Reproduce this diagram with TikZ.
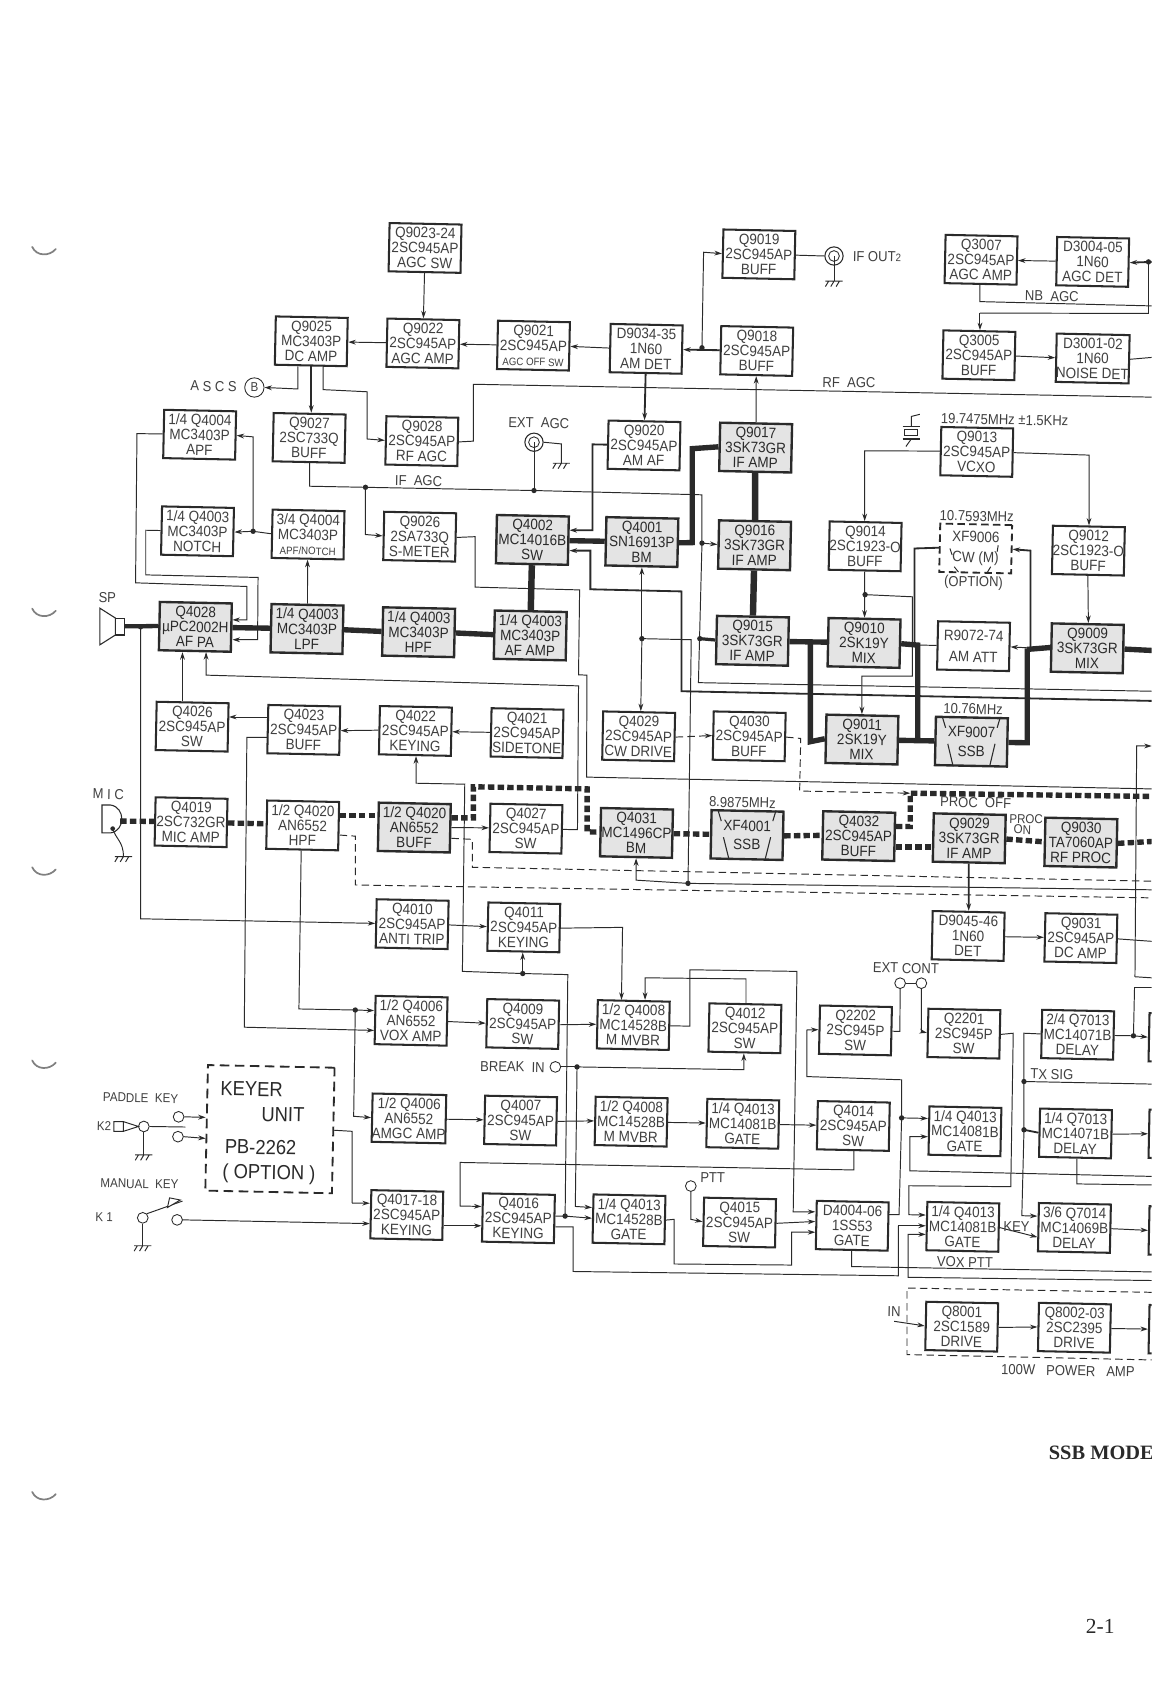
\documentclass[tikz,border=0pt]{standalone}
\usepackage{fontspec}
\setmainfont{Liberation Sans}[FakeStretch=0.9]
\newfontfamily\serifx{Liberation Serif}
\usetikzlibrary{arrows.meta}
\definecolor{ink}{HTML}{2A2A2A}
\definecolor{txt}{HTML}{404040}
\definecolor{gbox}{HTML}{E4E4E4}
\tikzset{
 base/.style={draw=ink,rotate=-1.2,minimum width=67pt,minimum height=45pt,inner sep=0pt,align=center,text=txt,font=\fontsize{14}{14}\selectfont},
 wbox/.style={base,line width=1.9pt,fill=white},
 gbx/.style={base,line width=2.2pt,fill=gbox,text=ink},
 dbox/.style={base,line width=1.7pt,fill=white,dash pattern=on 7pt off 4pt},
 sig/.style={draw=ink,line width=.9pt},
 arr/.style={-{Stealth[length=7pt,width=4.5pt]}},
 med/.style={draw=ink,line width=1.7pt},
 thk/.style={draw=ink,line width=5pt},
 tdash/.style={draw=ink,line width=5pt,dash pattern=on 6pt off 3pt},
 thdash/.style={draw=ink,line width=.9pt,dash pattern=on 7pt off 4pt},
 jdot/.style={circle,fill=ink,inner sep=0pt,minimum size=5pt},
 jack/.style={circle,draw=ink,line width=.8pt,fill=white,inner sep=0pt,minimum size=10pt,text=txt},
 lab/.style={rotate=-1.2,text=txt,inner sep=0pt,font=\fontsize{13.5}{14}\selectfont},
 bigl/.style={rotate=-1.2,text=ink,inner sep=0pt,font=\fontsize{19}{20}\selectfont},
 smlab/.style={rotate=-1.2,text=txt,inner sep=0pt,font=\fontsize{12}{13}\selectfont},
}
\newcommand{\bx}[5][wbox]{\node[#1] (#2) at ({#3+34},{#4+23}) {#5};}
\newcommand{\lb}[5][lab]{\node[#1] (#2) at (#3,#4) {#5};}
\newcommand{\jd}[3]{\node[jdot] (#1) at (#2,#3) {};}
\newcommand{\gnd}[2]{\draw[sig] ({#1-8},#2) -- ({#1+8},#2) ({#1-5},#2) -- ({#1-8},{#2+5}) ({#1},#2) -- ({#1-3},{#2+5}) ({#1+5},#2) -- ({#1+2},{#2+5});}
\newcommand{\filt}[4]{\draw[sig,line width=1pt] ({#1+7},#2) -- ({#1+10},{#2+10}) ({#1+12},{#2+25}) -- ({#1+17},#4) ({#3-7},#2) -- ({#3-10},{#2+10}) ({#3-12},{#2+25}) -- ({#3-17},#4);}
\newcommand{\tinylab}{\fontsize{10}{14}\selectfont}
\begin{document}
\begin{tikzpicture}[x=1pt,y=-1pt]
\clip (0,0) rectangle (1073,1568);
\fill[white] (0,0) rectangle (1073,1568);
% punch marks
\foreach \yy in {230,567,808,988,1390}{\draw[line width=1.6pt,gray,line cap=round] (30,\yy) .. controls (34,{\yy+9}) and (46,{\yy+9}) .. (52,{\yy+2});}
% boxes
\bx{q9023}{362}{208}{Q9023-24\\2SC945AP\\AGC SW}
\bx{q9019}{673}{214}{Q9019\\2SC945AP\\BUFF}
\bx{q3007}{880}{219}{Q3007\\2SC945AP\\AGC AMP}
\bx{d3004}{984}{221}{D3004-05\\1N60\\AGC DET}
\bx{q9025}{256}{295}{Q9025\\MC3403P\\DC AMP}
\bx{q9022}{360}{297}{Q9022\\2SC945AP\\AGC AMP}
\bx{q9021}{463}{299}{Q9021\\2SC945AP\\{\tinylab AGC OFF SW}}
\bx{d9034}{568}{302}{D9034-35\\1N60\\AM DET}
\bx{q9018}{671}{304}{Q9018\\2SC945AP\\BUFF}
\bx{q3005}{878}{308}{Q3005\\2SC945AP\\BUFF}
\bx{d3001}{984}{311}{D3001-02\\1N60\\NOISE DET}
\bx{a4004}{152}{382}{1/4 Q4004\\MC3403P\\APF}
\bx{q9027}{254}{385}{Q9027\\2SC733Q\\BUFF}
\bx{q9028}{359}{388}{Q9028\\2SC945AP\\RF AGC}
\bx{q9020}{566}{392}{Q9020\\2SC945AP\\AM AF}
\bx[gbx]{q9017}{670}{394}{Q9017\\3SK73GR\\IF AMP}
\bx{q9013}{876}{398}{Q9013\\2SC945AP\\VCXO}
\bx{n4003}{150}{472}{1/4 Q4003\\MC3403P\\NOTCH}
\bx{b4004}{253}{475}{3/4 Q4004\\MC3403P\\{\tinylab APF/NOTCH}}
\bx{q9026}{357}{477}{Q9026\\2SA733Q\\S-METER}
\bx[gbx]{q4002}{462}{480}{Q4002\\MC14016B\\SW}
\bx[gbx]{q4001}{564}{482}{Q4001\\SN16913P\\BM}
\bx[gbx]{q9016}{669}{485}{Q9016\\3SK73GR\\IF AMP}
\bx{q9014}{772}{486}{Q9014\\2SC1923-O\\BUFF}
\bx[dbox]{xf9006}{875}{488}{XF9006\\[5pt]CW (M)}
\bx{q9012}{980}{490}{Q9012\\2SC1923-O\\BUFF}
\bx[gbx]{q4028}{148}{561}{Q4028\\µPC2002H\\AF PA}
\bx[gbx]{lpf}{252}{563}{1/4 Q4003\\MC3403P\\LPF}
\bx[gbx]{hpf}{356}{566}{1/4 Q4003\\MC3403P\\HPF}
\bx[gbx]{afamp}{460}{569}{1/4 Q4003\\MC3403P\\AF AMP}
\bx[gbx]{q9015}{667}{574}{Q9015\\3SK73GR\\IF AMP}
\bx[gbx]{q9010}{771}{576}{Q9010\\2SK19Y\\MIX}
\bx{r9072}{873}{579}{R9072-74\\[6pt]AM ATT}
\bx[gbx]{q9009}{979}{581}{Q9009\\3SK73GR\\MIX}
\bx[gbx]{q9011}{769}{666}{Q9011\\2SK19Y\\MIX}
\bx[gbx]{xf9007}{871}{668}{XF9007\\[4pt]SSB}
\bx{q4026}{145}{654}{Q4026\\2SC945AP\\SW}
\bx{q4023}{249}{657}{Q4023\\2SC945AP\\BUFF}
\bx{q4022}{353}{658}{Q4022\\2SC945AP\\KEYING}
\bx{q4021}{457}{660}{Q4021\\2SC945AP\\SIDETONE}
\bx{q4029}{561}{663}{Q4029\\2SC945AP\\CW DRIVE}
\bx{q4030}{664}{663}{Q4030\\2SC945AP\\BUFF}
\bx{q4019}{144}{743}{Q4019\\2SC732GR\\MIC AMP}
\bx{hp4020}{248}{746}{1/2 Q4020\\AN6552\\HPF}
\bx[gbx]{bf4020}{352}{748}{1/2 Q4020\\AN6552\\BUFF}
\bx{q4027}{456}{749}{Q4027\\2SC945AP\\SW}
\bx[gbx]{q4031}{559}{753}{Q4031\\MC1496CP\\BM}
\bx[gbx]{xf4001}{662}{755}{XF4001\\[3pt]SSB}
\bx[gbx]{q4032}{766}{756}{Q4032\\2SC945AP\\BUFF}
\bx[gbx]{q9029}{869}{758}{Q9029\\3SK73GR\\IF AMP}
\bx[gbx]{q9030}{973}{762}{Q9030\\TA7060AP\\RF PROC}
\bx{q4010}{350}{838}{Q4010\\2SC945AP\\ANTI TRIP}
\bx{q4011}{454}{841}{Q4011\\2SC945AP\\KEYING}
\bx{d9045}{868}{849}{D9045-46\\1N60\\DET}
\bx{q9031}{973}{851}{Q9031\\2SC945AP\\DC AMP}
\bx{vox}{349}{928}{1/2 Q4006\\AN6552\\VOX AMP}
\bx{q4009}{453}{931}{Q4009\\2SC945AP\\SW}
\bx{m4008}{556}{932}{1/2 Q4008\\MC14528B\\M MVBR}
\bx{q4012}{660}{935}{Q4012\\2SC945AP\\SW}
\bx{q2202}{763}{937}{Q2202\\2SC945P\\SW}
\bx{q2201}{864}{940}{Q2201\\2SC945P\\SW}
\bx{s7013}{970}{941}{2/4 Q7013\\MC14071B\\DELAY}
\bx{amgc}{347}{1019}{1/2 Q4006\\AN6552\\AMGC AMP}
\bx{q4007}{451}{1021}{Q4007\\2SC945AP\\SW}
\bx{mm4008}{554}{1022}{1/2 Q4008\\MC14528B\\M MVBR}
\bx{ga}{658}{1024}{1/4 Q4013\\MC14081B\\GATE}
\bx{q4014}{761}{1026}{Q4014\\2SC945AP\\SW}
\bx{gb}{865}{1031}{1/4 Q4013\\MC14081B\\GATE}
\bx{d7013}{968}{1033}{1/4 Q7013\\MC14071B\\DELAY}
\bx{q4017}{345}{1109}{Q4017-18\\2SC945AP\\KEYING}
\bx{q4016}{449}{1112}{Q4016\\2SC945AP\\KEYING}
\bx{g4528}{552}{1113}{1/4 Q4013\\MC14528B\\GATE}
\bx{q4015}{655}{1116}{Q4015\\2SC945AP\\SW}
\bx{d4004}{760}{1119}{D4004-06\\1SS53\\GATE}
\bx{gc}{863}{1120}{1/4 Q4013\\MC14081B\\GATE}
\bx{q7014}{967}{1121}{3/6 Q7014\\MC14069B\\DELAY}
\bx{q8001}{862}{1213}{Q8001\\2SC1589\\DRIVE}
\bx{q8002}{967}{1214}{Q8002-03\\2SC2395\\DRIVE}
\bx{sta}{1070}{944}{}
\bx{stb}{1070}{1034}{}
\bx{stc}{1070}{1124}{}
\bx{std}{1070}{1216}{}
% symbols as nodes
\node[jack,minimum size=18pt,font=\fontsize{12}{12}\selectfont] (cB) at (237,361) {B};
\node[jack,minimum size=17pt,line width=1pt] (cExt) at (497.5,412) {};
\node[jack] at (497.5,412) {};
\node[jack,minimum size=17pt,line width=1pt] (cIf) at (777,238.5) {};
\node[jack] at (777,238.5) {};
\node[jack] (cC1) at (838.6,916) {};
\node[jack] (cC2) at (858.4,916) {};
\node[jack] (cPtt) at (643.6,1105) {};
\node[jack] (cBrk) at (517.4,994) {};
\node[jack] (cK2) at (134,1049.5) {};
\node[jack] (cK2a) at (166.4,1040.5) {};
\node[jack] (cK2b) at (165.8,1059) {};
\node[jack] (cK1) at (133,1134.6) {};
\node[jack] (cK1b) at (165,1136.5) {};
\node[base,line width=1.7pt,dash pattern=on 9pt off 5pt,minimum width=118pt,minimum height=117pt] (keyer) at (251.5,1052) {};
% junctions
\jd{jd}{654}{324}\jd{jif}{340.5}{454}\jd{jext}{497.5}{457}\jd{jqa}{654}{506}\jd{jqb}{652}{595}
\jd{jbm}{598}{595}\jd{jsm}{641}{823}\jd{jmix}{806}{554}\jd{japf}{235.8}{495}\jd{jkey}{487}{907}
\jd{jvox}{331}{941}\jd{jbrk}{537.6}{994}\jd{jgate}{526.5}{1133}\jd{jsq}{840}{1041.5}
\jd{jtx}{954}{1007.6}\jd{jdl}{954}{1052.6}\jd{jdel}{1056}{965}\jd{jdet}{1070}{244}\jd{jsp}{131}{584}
% edge coordinates
\coordinate (eRf) at (1073,370);\coordinate (eNb) at (1073,285);\coordinate (eDet) at (1073,244);
\coordinate (eNd) at (1073,333);\coordinate (eIf) at (1073,644);\coordinate (eTh) at (1073,653);
\coordinate (eSm) at (1073,735);\coordinate (eMix) at (1073,606);\coordinate (eSsb) at (1073,742);
\coordinate (eRfp) at (1073,784);\coordinate (eDa) at (1073,821);\coordinate (eDb) at (1073,836.5);
\coordinate (eLn) at (1073,829);\coordinate (eDc) at (1073,877);\coordinate (eUp) at (1073,695);
\coordinate (eLo) at (1073,911);\coordinate (eLp) at (1073,920);\coordinate (eTx) at (1073,1010);
\coordinate (eG) at (1073,1096);\coordinate (eDl) at (1073,1104);\coordinate (eVp) at (1073,1193);
\coordinate (eVo) at (1073,1185);\coordinate (ePa) at (1073,1204);\coordinate (ePb) at (1073,1267);
\coordinate (sp) at (116,583.5);\coordinate (mic) at (112,765);\coordinate (inpt) at (833,1231);
% top region
\draw[sig,arr] (q9023.south) -- (q9022.north);
\draw[sig,arr] (q9022.west) -- (q9025.east);
\draw[sig,arr] (q9021.west) -- (q9022.east);
\draw[sig,arr] (d9034.west) -- (q9021.east);
\draw[sig,arr] (q9025.south -| 277.6,0) -- (277.6,362.4) -- (cB.east);
\draw[med,arr] (q9025.south -| 290,0) -- (q9027.north -| 290,0);
\draw[sig,arr] (q9025.south -| 301,0) -- (301,363) -- (342,365) -- (342,409) -- (q9028.west);
\draw[sig] (q9028.east) -- (441,411) -- (441,358) -- (eRf);
\draw[sig] (q9027.south -| 288.5,0) -- (288.5,453) -- (jif.center) -- (jext.center) -- (654,461) -- (jqa.center) -- (650.7,636) -- (eIf);
\draw[sig,arr] (jif.center) -- (340.5,498) -- (q9026.west);
\draw[sig] (q9026.east) -- (442.6,500) -- (442.6,547) -- (540,549.6) -- (539,628.7) -- (546.8,629) -- (546.5,724) -- (eSm);
\draw[sig] (cExt.center) -- (jext.center);
\draw[sig] (cExt.east) -- (523,413.6) -- (523,431.6);
\gnd{523}{431.6}
\draw[med,arr] (q9020.west) -- (552,414) -- (552,494) -- (q4002.east |- 0,494);
\draw[thk] (q4001.west) -- (q4002.east);
\draw[med,arr] (eTh) -- (635,644) -- (635,551) -- (550,549) -- (550,513) -- (q4002.east |- 0,513);
\draw[thk] (q4001.east) -- (645,505.5) -- (645,418) -- (q9017.west);
\draw[thk,line width=6pt] (q9017.south) -- (q9016.north);
\draw[thk,line width=6pt] (q9016.south) -- (q9015.north);
\draw[sig,arr] (jqa.center) -- (q9016.west);
\draw[med,line width=3pt] (jqb.center) -- (q9015.west);
\draw[thk] (q9015.east) -- (q9010.west);
\draw[thk] (755,598.5) -- (755,691) -- (q9011.west);
\draw[thk] (q9010.east) -- (855,601) -- (855,692);
\draw[thk] (q9011.east) -- (xf9007.west);
\draw[sig] (855,601) -- (r9072.west);
\draw[thk] (xf9007.east) -- (957,692) -- (957,604);
\draw[thk] (957,605) -- (q9009.west);
\draw[sig,arr] (957,603.5) -- (r9072.east);
\draw[med,arr] (960,604) -- (960,513) -- (xf9006.east);
\draw[med] (852,600) -- (852,511) -- (xf9006.west);
\draw[thk] (q9009.east) -- (eMix);
\draw[sig,arr] (q9013.west) -- (805.6,420) -- (q9014.north -| 805.6,0);
\draw[sig,arr] (q9013.east) -- (1014.6,424) -- (q9012.north -| 1014.6,0);
\draw[sig,arr] (q9012.south) -- (q9009.north -| 1014,0);
\draw[sig,arr] (q9014.south) -- (q9010.north);
\draw[sig,arr] (jmix.center) -- (850,556) -- (850,630) -- (803,630) -- (q9011.north -| 803,0);
% AGC/noise
\draw[med,arr] (q9018.west) -- (d9034.east);
\draw[sig,arr] (jd.center) -- (655.5,235) -- (q9019.west);
\draw[sig] (q9019.east) -- (cIf.west);
\draw[sig] (cIf.center) -- (777,262);
\gnd{777}{262}
\draw[sig,arr] (q9017.north) -- (q9018.south);
\draw[med,arr] (d9034.south) -- (q9020.north);
\draw[sig,arr] (d3004.west) -- (q3007.east);
\draw[med,arr] (eDet) -- (d3004.east);
\draw[sig] (jdet.center) -- (1070,292) -- (913,291.7);
\draw[sig,arr] (913,291.7) -- (q3005.north -| 913,0);
\draw[sig] (q3007.south -| 913,0) -- (913,281) -- (eNb);
\draw[sig,arr] (q3005.east) -- (d3001.west);
\draw[sig] (d3001.east) -- (eNd);
% audio chain
\draw[thk,line width=4pt] (sp) -- (q4028.west);
\draw[thk] (q4028.east) -- (lpf.west);
\draw[thk] (lpf.east) -- (hpf.west);
\draw[thk] (hpf.east) -- (afamp.west);
\draw[thk,line width=6pt] (afamp.north) -- (q4002.south);
\draw[sig,arr] (jsp.center) -- (131,856) -- (q4010.west);
\draw[sig,arr] (a4004.west) -- (127.6,404) -- (126.3,543) -- (230,546.4) -- (230,577.5) -- (q4028.east |- 0,577.5);
\draw[sig,arr] (n4003.west) -- (135.8,494) -- (135.8,535.6) -- (240.4,538) -- (240,596) -- (q4028.east |- 0,596);
\draw[sig,arr] (japf.center) -- (235.8,407) -- (a4004.east);
\draw[sig,arr] (b4004.west) -- (japf.center) -- (n4003.east);
\draw[sig,arr] (lpf.north) -- (b4004.south);
\draw[sig,arr] (q4026.north -| 170,0) -- (q4028.south -| 170,0);
\draw[sig,arr] (q4027.east) -- (538,773) -- (539,639) -- (192,629) -- (q4028.south -| 192,0);
\draw[sig,arr] (q4023.west |- 0,668) -- (q4026.east |- 0,668);
\draw[sig,arr] (q4022.west) -- (q4023.east);
\draw[sig,arr] (q4021.west) -- (q4022.east);
\draw[sig,arr] (q4023.west |- 0,687) -- (230,687) -- (227.6,957) -- (vox.west |- 0,960);
\draw[sig] (hp4020.south -| 280.6,0) -- (278.5,940) -- (jvox.center);
\draw[sig,arr] (jvox.center) -- (vox.west |- 0,941.5);
\draw[sig,arr] (jvox.center) -- (329.5,1040) -- (amgc.west);
\draw[sig,arr] (jkey.center) -- (q4011.south -| 487,0);
\draw[sig,arr] (jkey.center) -- (430.8,905) -- (433,730.6) -- (387.6,729.7) -- (q4022.south -| 387.6,0);
\draw[sig] (jkey.center) -- (529,908) -- (jgate.center);
% SSB path
\draw[tdash] (mic) -- (q4019.west);
\draw[tdash] (q4019.east) -- (hp4020.west |- 0,767.5);
\draw[tdash] (hp4020.east |- 0,760) -- (bf4020.west |- 0,760);
\draw[tdash] (bf4020.east |- 0,762) -- (441,762) -- (441,733) -- (547,735) -- (547,775) -- (q4031.west);
\draw[tdash] (q4031.east) -- (xf4001.west);
\draw[tdash] (xf4001.east) -- (q4032.west);
\draw[tdash] (q4032.east |- 0,789) -- (q9029.west |- 0,789);
\draw[tdash] (q4032.east |- 0,770) -- (848,770) -- (848,739) -- (eSsb);
\draw[tdash] (q9029.east) -- (q9030.west);
\draw[tdash] (q9030.east) -- (eRfp);
\draw[sig,arr] (bf4020.east |- 0,771) -- (q4027.west);
\draw[thdash] (bf4020.east |- 0,781) -- (440,782) -- (440,808) -- (eDa);
\draw[thdash] (hp4020.east |- 0,778) -- (331,779) -- (331,824.5) -- (eDb);
\draw[sig,arr] (jbm.center) -- (q4001.south -| 598,0);
\draw[sig,arr] (jbm.center) -- (q4029.north -| 597,0);
\draw[sig] (jbm.center) -- (644,596) -- (jsm.center);
\draw[sig,arr] (jsm.center) -- (592.6,820) -- (q4031.south -| 592.6,0);
\draw[sig] (jsm.center) -- (eLn);
\draw[thdash,arr] (q4029.east) -- (q4030.west);
\draw[thdash,arr] (q4030.east) -- (746,688) -- (745,737) -- (848,739);
\draw[med,arr] (q9029.south) -- (d9045.north);
\draw[sig,arr] (d9045.east) -- (q9031.west);
\draw[sig] (q9031.east) -- (eDc);
\draw[sig,arr] (1057.4,910) -- (1059,695) -- (eUp);
\draw[sig] (1057.4,910) -- (eLo);
% lower blocks
\draw[sig,arr] (q4010.east) -- (q4011.west);
\draw[sig,arr] (q4011.east) -- (580,864) -- (m4008.north -| 579,0);
\draw[sig,arr] (q4012.north -| 695,0) -- (695,912) -- (601,911) -- (m4008.north -| 601,0);
\draw[sig,arr] (m4008.east) -- (642.7,956) -- (642.7,903.5) -- (742.5,905) -- (739,1129) -- (d4004.west |- 0,1129);
\draw[sig,arr] (vox.east) -- (q4009.west);
\draw[sig,arr] (q4009.east) -- (m4008.west);
\draw[sig,arr] (amgc.east) -- (q4007.west);
\draw[sig,arr] (q4007.east) -- (mm4008.west);
\draw[sig,arr] (mm4008.east) -- (ga.west);
\draw[sig,arr] (ga.east) -- (q4014.west);
\draw[sig] (cBrk.east) -- (jbrk.center);
\draw[sig,arr] (jbrk.center) -- (693,996.6) -- (q4012.south -| 693,0);
\draw[sig,arr] (jbrk.center) -- (536,1124) -- (g4528.west |- 0,1125);
\draw[sig,arr] (q4014.south -| 795.6,0) -- (795.6,1090) -- (428.6,1083) -- (428.6,1123.6) -- (q4016.west |- 0,1124);
\draw[sig,arr] (q4016.east |- 0,1133) -- (jgate.center) -- (g4528.west |- 0,1135);
\draw[sig] (q4016.east |- 0,1143) -- (534,1143) -- (534,1184.6) -- (837,1188.6) -- (837,1142);
\draw[sig,arr] (837,1142) -- (gc.west |- 0,1142);
\draw[sig,arr] (g4528.east) -- (628,1136) -- (628,1177.6) -- (737.6,1178.6) -- (737.6,1148) -- (d4004.west |- 0,1148);
\draw[sig,arr] (cPtt.south) -- (643.6,1136) -- (q4015.west);
\draw[sig,arr] (q4015.east) -- (d4004.west |- 0,1138);
\draw[sig] (d4004.east |- 0,1131.7) -- (837.6,1131.7) -- (jsq.center);
\draw[sig,arr] (jsq.center) -- (gb.west |- 0,1042);
\draw[sig,arr] (jsq.center) -- (840,1006) -- (751.7,1003) -- (751.7,959.6) -- (q2202.west);
\draw[sig] (q2202.east) -- (838.4,961) -- (cC1.south);
\draw[sig] (cC1.east) -- (cC2.west);
\draw[sig,arr] (cC2.south) -- (858.4,961) -- (q2201.west);
\draw[sig,arr] (q2201.east) -- (944,962.6) -- (941.7,1105.6) -- (846.8,1104.7) -- (846.8,1131.7) -- (gc.west |- 0,1132);
\draw[sig,arr] (eVp) -- (846,1190) -- (846,1150) -- (gc.west |- 0,1150);
\draw[sig,arr] (eG) -- (847.7,1090.8) -- (847.7,1059) -- (gb.west |- 0,1059);
\draw[sig] (d4004.south -| 793.4,0) -- (793.4,1180) -- (eVo);
\draw[sig,arr] (gc.east) -- (q7014.west |- 0,1152.6);
\draw[sig,arr] (s7013.west) -- (954,962.6) -- (jtx.center) -- (jdl.center) -- (952,1132.6) -- (q7014.west |- 0,1133);
\draw[sig] (jtx.center) -- (eTx);
\draw[med] (jdl.center) -- (d7013.west);
\draw[sig,arr] (s7013.east) -- (jdel.center) -- (sta.west);
\draw[sig] (jdel.center) -- (1057,920) -- (eLp);
\draw[sig,arr] (d7013.east) -- (stb.west);
\draw[sig] (d7013.south -| 1003.3,0) -- (1003.3,1103) -- (eDl);
\draw[sig,arr] (q7014.east) -- (stc.west);
\draw[sig,arr] (q8002.east) -- (std.west);
\draw[sig,arr] (q8001.east) -- (q8002.west);
\draw[sig,arr] (inpt) -- (q8001.west);
\draw[thdash] (ePa) -- (845,1200) -- (845,1262) -- (ePb);
% keyer & keys
\draw[sig,arr] (cK2a.east) -- (keyer.west |- 0,1041);
\draw[sig,arr] (cK2b.east) -- (keyer.west |- 0,1060.6);
\draw[sig] (keyer.east |- 0,1053) -- (328,1054) -- (328,1120.8);
\draw[sig,arr] (328,1120.8) -- (q4017.west |- 0,1121);
\draw[sig,arr] (cK1b.east) -- (q4017.west |- 0,1140);
\draw[sig,arr] (q4017.east |- 0,1142) -- (q4016.west |- 0,1142);
\draw[sig] (cK2.east) -- (172.6,1050);
\draw[sig] (cK2.south) -- (134,1076);
\gnd{134}{1076}
\draw[sig] (cK1.south) -- (133,1160.6);
\gnd{133}{1160.6}
\draw[sig] (cK1.north east) -- (170,1119);
\draw[sig,fill=white] (156,1125) -- (168,1118) -- (158,1116) -- cycle;
\draw[sig] (129,1049.5) -- (115,1045) -- (115,1054) -- cycle (106,1045) rectangle (115,1054);
% speaker, mic, crystal, ground
\draw[sig,line width=1pt] (93,566.6) -- (107.5,575.8) -- (107.5,591.6) -- (93,600.8) -- cycle;
\draw[sig,line width=1pt] (107.5,575.8) rectangle (116,591.6);
\draw[sig,line width=1pt] (95,750) -- (103,750) .. controls (117,752) and (117,774) .. (103,776) -- (95,776) -- cycle;
\draw[sig] (105,772) .. controls (108,782) and (115,784) .. (115,798);
\fill[ink] (105,772) circle (2.2);
\gnd{115}{798}
\draw[sig,line width=1.1pt] (841,397.4) -- (857,397.4) (841,409) -- (857,409);
\draw[sig,line width=1.1pt] (843,400.5) rectangle (855,406);
\draw[sig] (849,397.4) -- (849,388) -- (857,386) (849,409) -- (844,416);
% filter marks
\filt{662}{755}{730}{800}
\filt{871}{668}{939}{714}
\draw[sig] (885,511) -- (887,517) (930,508) -- (929,514) (893,533) -- (889,528) (920,533) -- (923,528);
% labels
\lb{tascs}{199}{360}{A S C S}
\lb{text}{502}{394}{EXT\ \ AGC}
\lb{tif}{390}{448}{IF\ \ AGC}
\lb{trf}{791}{356.5}{RF\ \ AGC}
\lb{tnb}{980}{276}{NB\ \ AGC}
\lb{tout}{817}{239}{IF OUT{\fontsize{10}{10}\selectfont 2}}
\lb{tsp}{100}{557}{SP}
\lb{tmic}{101}{740}{M I C}
\lb{tptt}{664}{1097}{PTT}
\lb{tcont}{844}{902}{EXT CONT}
\lb{tbrk}{477.5}{994}{BREAK\ \ IN}
\lb{ttx}{980}{1001}{TX SIG}
\lb{tkey}{947}{1143}{KEY}
\lb{tvox}{899}{1176}{VOX PTT}
\lb{tin}{833}{1222}{IN}
\lb{tpa}{995}{1277}{100W\ \ \ POWER\ \ \ AMP}
\lb{tfa}{936}{391}{19.7475MHz ±1.5KHz}
\lb{tfb}{910}{481}{10.7593MHz}
\lb{topt}{907}{543}{(OPTION)}
\lb{tfc}{906.6}{660.6}{10.76MHz}
\lb{tfd}{691.7}{747.7}{8.9875MHz}
\lb{tpo}{909}{747.6}{PROC\ \ OFF}
\lb[smlab]{tpn}{956}{763}{PROC}
\lb[smlab]{tpm}{952.5}{773}{ON}
\lb[smlab]{tpk}{131}{1023}{PADDLE\ \ KEY}
\lb[smlab]{tk2}{97}{1049}{K2}
\lb[smlab]{tman}{130}{1103}{MANUAL\ \ KEY}
\lb[smlab]{tk1}{97}{1134}{K 1}
\lb[bigl]{tk}{234.4}{1014.6}{KEYER}
\lb[bigl]{tu}{263.7}{1038.6}{UNIT}
\lb[bigl]{tp}{242.8}{1069}{PB-2262}
\lb[bigl]{to}{250.6}{1093.8}{( OPTION )}
\node[anchor=west,inner sep=0pt,text=ink,font=\serifx\bfseries\fontsize{19}{22}\selectfont] (tssb) at (977,1354) {SSB MODE};
\node[inner sep=0pt,text=ink,font=\serifx\fontsize{20}{22}\selectfont] (tpg) at (1025,1515) {2-1};
\end{tikzpicture}
\end{document}
